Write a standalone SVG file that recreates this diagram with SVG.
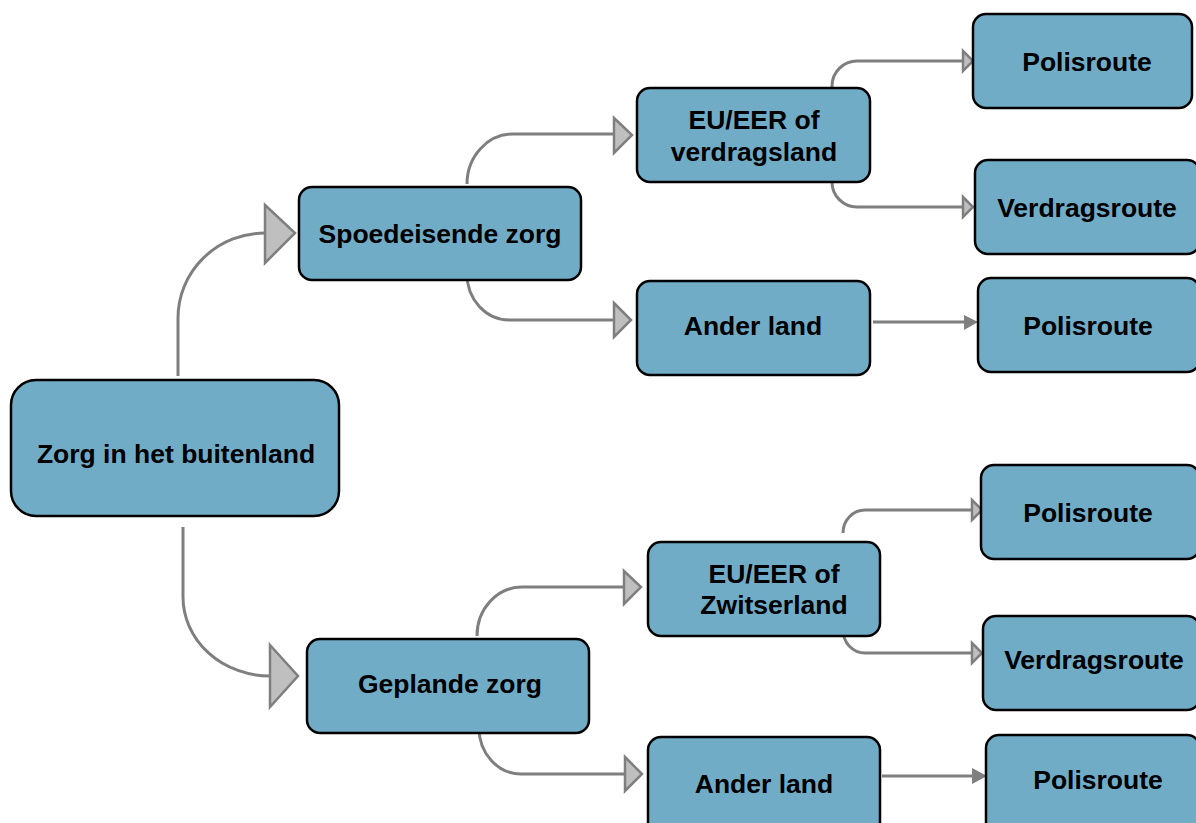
<svg xmlns="http://www.w3.org/2000/svg" width="1196" height="823" viewBox="0 0 1196 823">
<style>
.box{fill:#71acc7;stroke:#000;stroke-width:2.5}
.t{font-family:"Liberation Sans",Arial,sans-serif;font-weight:bold;font-size:26.5px;fill:#000;text-anchor:middle}
.ln{fill:none;stroke:#7f7f7f;stroke-width:3}
.tri{fill:#bfbfbf;stroke:#7f7f7f;stroke-width:2.5;stroke-linejoin:miter}
.arr{fill:#7f7f7f}
</style>
<rect width="1196" height="823" fill="#fff"/>
<g id="connectors">
<path class="ln" d="M178,376 V318 A87,85 0 0 1 265,233"/>
<polygon class="tri" points="265,205 295,233 265,263"/>
<path class="ln" d="M183,527 V597 A87,79 0 0 0 270,676"/>
<polygon class="tri" points="270,645 298,676 270,707"/>
<path class="ln" d="M467,184 A46,50 0 0 1 513,134 H614"/>
<polygon class="tri" points="614,118 632,135 614,153"/>
<path class="ln" d="M467,274 A42,46 0 0 0 509,320 H614"/>
<polygon class="tri" points="614,303 631,320 614,337"/>
<path class="ln" d="M832,88 V86 A25,25 0 0 1 857,61 H963"/>
<polygon class="tri" points="963,51 973,61 963,71"/>
<path class="ln" d="M832,182 A25,25 0 0 0 857,207 H963"/>
<polygon class="tri" points="963,197 973,207 963,217"/>
<path class="ln" d="M873,322 H966"/>
<polygon class="arr" points="964,315 978,322 964,330"/>
<path class="ln" d="M477,636 A45,49 0 0 1 522,587 H624"/>
<polygon class="tri" points="624,571 641,587 624,604"/>
<path class="ln" d="M479,728 A42,46 0 0 0 521,774 H625"/>
<polygon class="tri" points="625,757 642,774 625,791"/>
<path class="ln" d="M843,533 A22,23 0 0 1 865,510 H972"/>
<polygon class="tri" points="972,500 982,510 972,520"/>
<path class="ln" d="M843,630 A22,23 0 0 0 865,653 H972"/>
<polygon class="tri" points="972,643 982,653 972,663"/>
<path class="ln" d="M882,776 H975"/>
<polygon class="arr" points="972,768 987,776 972,784"/>
</g>
<g id="n-root"><rect class="box" x="11" y="380" width="328" height="136" rx="25"/><text class="t" x="176" y="463">Zorg in het buitenland</text></g>
<g id="n-spoed"><rect class="box" x="299" y="187" width="282" height="93" rx="13"/><text class="t" x="440" y="243">Spoedeisende zorg</text></g>
<g id="n-eu1"><rect class="box" x="637" y="88" width="233" height="94" rx="13"/><text class="t" x="754" y="129">EU/EER of</text><text class="t" x="754" y="161">verdragsland</text></g>
<g id="n-ander1"><rect class="box" x="637" y="281" width="233" height="94" rx="13"/><text class="t" x="753" y="335">Ander land</text></g>
<g id="n-polis1"><rect class="box" x="973" y="14" width="219" height="94" rx="13"/><text class="t" x="1087" y="71">Polisroute</text></g>
<g id="n-verdrag1"><rect class="box" x="975" y="160" width="225" height="94" rx="13"/><text class="t" x="1087" y="217">Verdragsroute</text></g>
<g id="n-polis2"><rect class="box" x="978" y="278" width="222" height="94" rx="13"/><text class="t" x="1088" y="335">Polisroute</text></g>
<g id="n-gepland"><rect class="box" x="307" y="639" width="282" height="94" rx="13"/><text class="t" x="450" y="693">Geplande zorg</text></g>
<g id="n-eu2"><rect class="box" x="648" y="542" width="232" height="94" rx="13"/><text class="t" x="774" y="583">EU/EER of</text><text class="t" x="774" y="614">Zwitserland</text></g>
<g id="n-ander2"><rect class="box" x="648" y="737" width="232" height="100" rx="13"/><text class="t" x="764" y="793">Ander land</text></g>
<g id="n-polis3"><rect class="box" x="981" y="465" width="219" height="94" rx="13"/><text class="t" x="1088" y="522">Polisroute</text></g>
<g id="n-verdrag2"><rect class="box" x="983" y="616" width="217" height="94" rx="13"/><text class="t" x="1094" y="669">Verdragsroute</text></g>
<g id="n-polis4"><rect class="box" x="986" y="735" width="214" height="100" rx="13"/><text class="t" x="1098" y="789">Polisroute</text></g>
</svg>
